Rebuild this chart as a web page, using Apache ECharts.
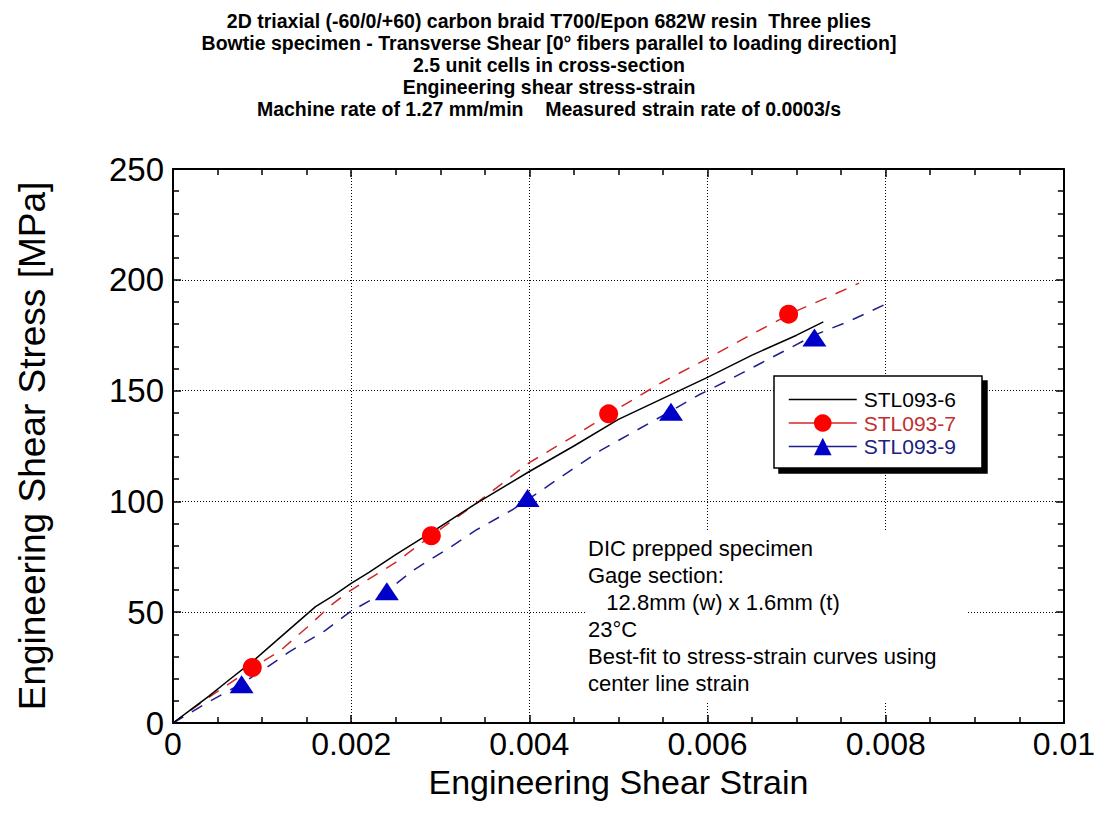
<!DOCTYPE html>
<html>
<head>
<meta charset="utf-8">
<script src="https://cdn.jsdelivr.net/npm/echarts@6/dist/echarts.min.js"></script>
<style>
html,body{margin:0;padding:0;background:#fff;}
#chart{width:1098px;height:823px;}
</style>
</head>
<body>
<div id="chart"></div>
<script>
// ---- data ----
const titleLines = [
  '2D triaxial (-60/0/+60) carbon braid T700/Epon 682W resin  Three plies',
  'Bowtie specimen - Transverse Shear [0\u00b0 fibers parallel to loading direction]',
  '2.5 unit cells in cross-section',
  'Engineering shear stress-strain',
  'Machine rate of 1.27 mm/min    Measured strain rate of 0.0003/s'
];
const seriesNames = ['STL093-6', 'STL093-7', 'STL093-9'];

const s6X = [0, 0.0002, 0.0004, 0.0006, 0.0009, 0.0012, 0.0016, 0.0018, 0.002, 0.0022, 0.0025, 0.0029, 0.0034, 0.004, 0.0045, 0.005, 0.0055, 0.006, 0.0065, 0.007, 0.0073];
const s6Y = [0, 6, 12, 18.5, 28, 38.5, 52.5, 57.5, 63, 68, 76, 86, 99, 113.5, 125, 137, 146.5, 156, 166, 175, 181];

const s7X = [0, 0.0004, 0.0009, 0.0012, 0.0015, 0.0018, 0.002, 0.0025, 0.0029, 0.0034, 0.004, 0.0045, 0.005, 0.0055, 0.006, 0.0065, 0.007, 0.0074, 0.0077];
const s7Y = [0, 11.5, 25, 32.5, 43, 54, 60, 72.5, 84.5, 99, 117.5, 129.5, 142, 154, 164.5, 175.5, 186, 193, 198.5];
const s7MarkX = [0.00089, 0.0029, 0.00489, 0.00691];
const s7MarkY = [25, 84.5, 139.5, 184.5];

const s9X = [0, 0.0004, 0.0008, 0.00105, 0.0013, 0.0017, 0.002, 0.0024, 0.0027, 0.0031, 0.0034, 0.0038, 0.0041, 0.0045, 0.0048, 0.0052, 0.0056, 0.0059, 0.0062, 0.0067, 0.0072, 0.0076, 0.008];
const s9Y = [0, 9.5, 18.5, 25, 32, 41.5, 50.5, 59.5, 69, 79, 87, 96, 104, 115, 123, 132, 141, 148, 154, 164.5, 175, 181.5, 189];
const s9MarkX = [0.00077, 0.0024, 0.00398, 0.00559, 0.0072];
const s9MarkY = [17.5, 59.5, 101.5, 140.5, 174];

const xTickMin = 0, xTickMax = 0.01, xTickStep = 0.002;
const yTickMin = 0, yTickMax = 250, yTickStep = 50;

const noteLines = [
  'DIC prepped specimen',
  'Gage section:',
  '   12.8mm (w) x 1.6mm (t)',
  '23\u00b0C',
  'Best-fit to stress-strain curves using',
  'center line strain'
];

// ---- build ----
const zip = (xs, ys) => xs.map((x, i) => [x, ys[i]]);
const FONT = '"Liberation Sans", Arial, sans-serif';

const chart = echarts.init(document.getElementById('chart'), null, {renderer: 'svg'});

const gridLine = {show: true, lineStyle: {color: '#000', width: 1, type: [1, 2]}};
const frameAxis = (extra) => Object.assign({
  type: 'value',
  axisLine: {show: true, onZero: false, lineStyle: {color: '#000', width: 2}},
  axisTick: {show: true, inside: true, length: 8, lineStyle: {color: '#000', width: 1.5}},
  axisLabel: {show: false}, splitLine: {show: false}
}, extra);

const option = {
  backgroundColor: '#fff',
  animation: false,
  title: {
    text: titleLines.join('\n'),
    left: 'center',
    top: 5,
    textStyle: {fontFamily: FONT, fontWeight: 'bold', fontSize: 19.5, lineHeight: 22, color: '#000'}
  },
  grid: {left: 173, right: 33, top: 169, bottom: 100, containLabel: false},
  xAxis: [frameAxis({
    min: xTickMin, max: xTickMax, interval: xTickStep,
    name: 'Engineering Shear Strain', nameLocation: 'middle', nameGap: 42, nameMoveOverlap: false,
    nameTextStyle: {fontFamily: FONT, fontSize: 34, color: '#000'},
    minorTick: {show: true, splitNumber: 4, length: 6, lineStyle: {color: '#000', width: 1.5}},
    axisLabel: {show: true, fontFamily: FONT, fontSize: 32, color: '#000', margin: 5},
    splitLine: gridLine
  }), frameAxis({
    position: 'top', min: xTickMin, max: xTickMax, interval: xTickStep,
    minorTick: {show: true, splitNumber: 4, length: 6, lineStyle: {color: '#000', width: 1.5}}
  })],
  yAxis: [frameAxis({
    min: yTickMin, max: yTickMax, interval: yTickStep,
    name: 'Engineering Shear Stress [MPa]', nameLocation: 'middle', nameGap: 122, nameMoveOverlap: false,
    nameTextStyle: {fontFamily: FONT, fontSize: 37, color: '#000'},
    minorTick: {show: true, splitNumber: 5, length: 6, lineStyle: {color: '#000', width: 1.5}},
    axisLabel: {show: true, fontFamily: FONT, fontSize: 33, color: '#000', margin: 9},
    splitLine: gridLine
  }), frameAxis({
    position: 'right', min: yTickMin, max: yTickMax, interval: yTickStep,
    minorTick: {show: true, splitNumber: 5, length: 6, lineStyle: {color: '#000', width: 1.5}}
  })],
  legend: {
    data: [
      {name: seriesNames[0], icon: 'path://M0,0H68V1.5H0Z', textStyle: {color: '#000'}},
      {name: seriesNames[1], textStyle: {color: '#c03030'}},
      {name: seriesNames[2], textStyle: {color: '#202080'}}
    ],
    orient: 'vertical',
    left: 774, top: 376,
    backgroundColor: '#fff',
    borderColor: '#000', borderWidth: 1.5,
    shadowColor: '#000', shadowBlur: 0, shadowOffsetX: 5, shadowOffsetY: 5,
    padding: [13, 26, 11, 14],
    itemWidth: 68, itemHeight: 22, itemGap: 2.5,
    lineStyle: {type: 'solid', width: 1.5},
    textStyle: {fontFamily: FONT, fontSize: 21, padding: [0, 0, 0, 2]},
    selectedMode: false
  },
  series: [
    {
      name: seriesNames[0], type: 'line', data: zip(s6X, s6Y), symbol: 'none', showSymbol: false,
      lineStyle: {color: '#000', width: 1.5}, itemStyle: {color: '#000'}, z: 3
    },
    {
      name: seriesNames[1], type: 'line', data: zip(s7X, s7Y), symbol: 'circle', showSymbol: false,
      lineStyle: {color: '#d02828', width: 1.5, type: [12, 10]}, itemStyle: {color: '#ff0000'}, z: 2
    },
    {
      name: seriesNames[2], type: 'line', data: zip(s9X, s9Y), symbol: 'triangle', showSymbol: false,
      lineStyle: {color: '#1e1e90', width: 1.5, type: [12, 10]}, itemStyle: {color: '#0000c8'}, z: 2
    },
    {
      name: 'STL093-7 markers', type: 'scatter', data: zip(s7MarkX, s7MarkY), symbol: 'circle', symbolSize: 19,
      itemStyle: {color: '#ff0000', opacity: 1}, z: 4
    },
    {
      name: 'STL093-9 markers', type: 'scatter', data: zip(s9MarkX, s9MarkY), symbol: 'triangle', symbolSize: [24, 18],
      itemStyle: {color: '#0000c8', opacity: 1}, z: 4
    }
  ],
  graphic: [{
    type: 'text', left: 586, top: 531, z: 10,
    style: {
      text: noteLines.join('\n'), fontFamily: FONT, fontSize: 22, lineHeight: 27, fill: '#000',
      backgroundColor: '#fff', padding: [4, 30, 6, 2]
    }
  }]
};
chart.setOption(option);
</script>
</body>
</html>
